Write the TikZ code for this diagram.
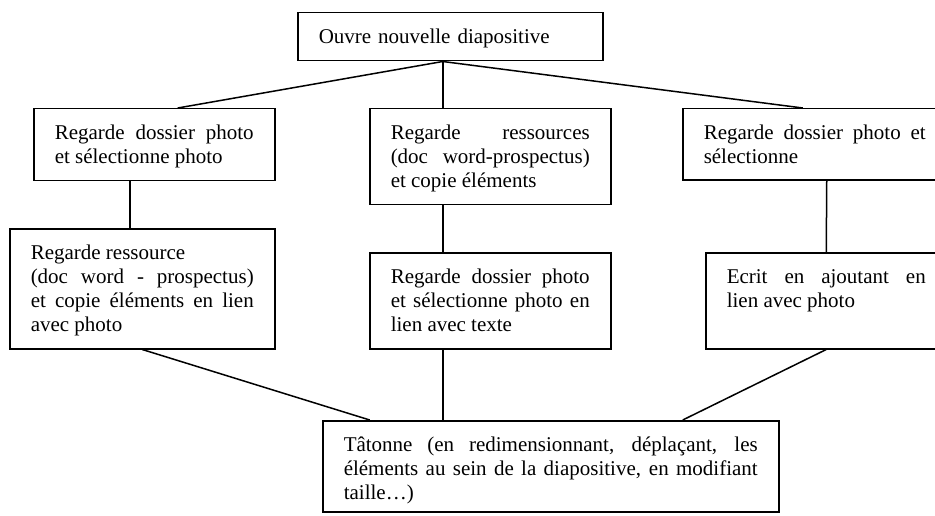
\documentclass[tikz,border=0pt]{standalone}
\usepackage{fontspec}
\setmainfont{Liberation Serif}
\tolerance=10000
\hyphenpenalty=10000
\exhyphenpenalty=10000
\begin{document}
\begin{tikzpicture}[
    x=1pt, y=-1pt,
    action/.style={rectangle, draw, line width=1.5pt, anchor=north west, align=justify, inner xsep=21pt, inner ysep=0pt, text height=30.5pt, font=\fontsize{21pt}{24.2pt}\selectfont},
    link/.style={line width=1.5pt}
]
\useasboundingbox (0,0) rectangle (935,516);
\node[action, align=left, text width=263pt, text depth=17.5pt] (ouvre) at (297,12) {Ouvre nouvelle diapositive};
\node[action, text width=199pt, text depth=41.5pt] (photo1) at (33,108) {Regarde dossier photo\linebreak et sélectionne photo};
\node[action, text width=199pt, text depth=65.5pt] (res1) at (369,108) {Regarde ressources\linebreak (doc word-prospectus)\linebreak et copie éléments};
\node[action, text width=222pt, text depth=41pt] (photo3) at (682,108) {Regarde dossier photo et\linebreak sélectionne};
\node[action, text width=223pt, text depth=89.5pt] (res2) at (9,228) {Regarde ressource\newline (doc word - prospectus)\linebreak et copie éléments en lien\linebreak avec photo};
\node[action, text width=199pt, text depth=65.5pt] (photo2) at (369,252) {Regarde dossier photo\linebreak et sélectionne photo en\linebreak lien avec texte};
\node[action, text width=199pt, text depth=65.5pt] (ecrit) at (705,252) {Ecrit en ajoutant en\linebreak lien avec photo};
\node[action, text width=414pt, text depth=60.5pt] (tatonne) at (322,420) {Tâtonne (en redimensionnant, déplaçant, les\linebreak éléments au sein de la diapositive, en modifiant\linebreak taille…)};

\coordinate (hub) at ([xshift=-7.5pt]ouvre.south);
\draw[link] (hub) -- ([xshift=23.5pt]photo1.north);
\draw[link] (hub) -- (hub |- res1.north);
\draw[link] (hub) -- ([xshift=-12pt]photo3.north);
\draw[link] ([xshift=-24.5pt]photo1.south) -- ([xshift=-12.5pt]res2.north);
\draw[link] (hub |- res1.south) -- (hub |- photo2.north);
\draw[link] ([xshift=12pt]photo3.south) -- (ecrit.north);
\draw[link] (res2.south) -- ([xshift=-181pt]tatonne.north);
\draw[link] (hub |- photo2.south) -- (hub |- tatonne.north);
\draw[link] (ecrit.south) -- ([xshift=132pt]tatonne.north);
\end{tikzpicture}
\end{document}
